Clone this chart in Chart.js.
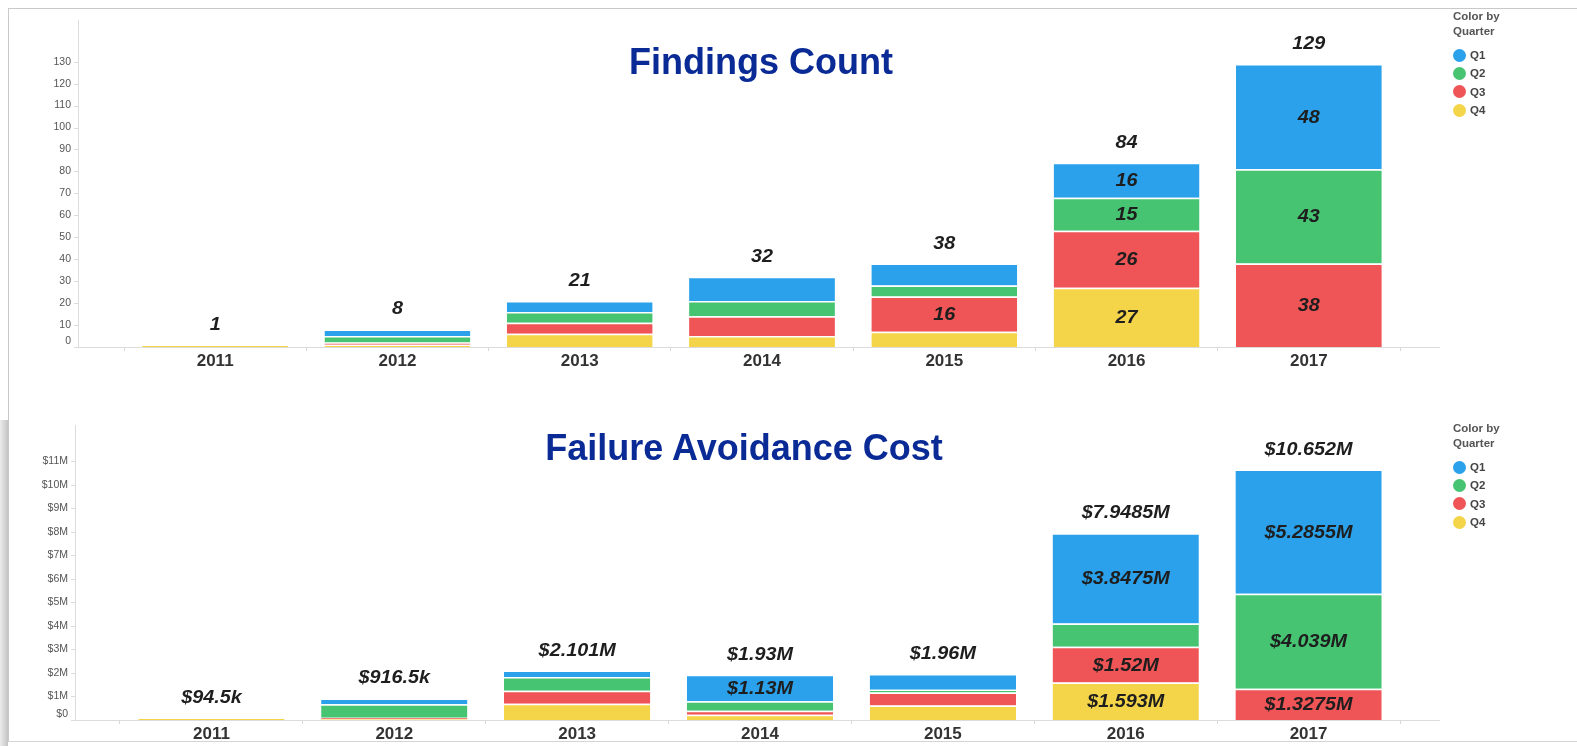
<!DOCTYPE html>
<html>
<head>
<meta charset="utf-8">
<script src="https://cdn.jsdelivr.net/npm/chart.js@4.4.0/dist/chart.umd.min.js"></script>
<style>
    html, body { margin: 0; padding: 0; background: #fff; width: 1577px; height: 746px; overflow: hidden; font-family: "Liberation Sans", Arial, sans-serif; }
    .frame { position: absolute; left: 8px; top: 8px; width: 1569px; height: 732px; border-top: 1px solid #c9c9c9; border-left: 1px solid #c9c9c9; border-bottom: 1px solid #d4d4d4; }
    .shadow { position: absolute; left: 0; top: 420px; width: 8px; height: 326px; background: linear-gradient(to right, #ececec, #c4c4c4); }
    .box { position: absolute; left: 0; }
    .title { position: absolute; font: bold 36px "Liberation Sans", Arial, sans-serif; line-height: 36px; color: #0a2a96; white-space: nowrap; transform: translateX(-50%); }
    .legend { position: absolute; left: 1453px; font: bold 11.5px "Liberation Sans", Arial, sans-serif; color: #555; }
    .legend .head { line-height: 15px; margin-bottom: 7px; }
    .legend .item { display: flex; align-items: center; height: 18.3px; color: #444; }
    .legend .dot { width: 13px; height: 13px; border-radius: 50%; margin-right: 4px; }
</style>
</head>
<body>
<div class="frame"></div>
<div class="shadow"></div>

<div class="box" style="top:0"><canvas id="countChart" width="1577" height="380"></canvas></div>
<div class="box" style="top:380px"><canvas id="costChart" width="1577" height="366"></canvas></div>

<div class="title" style="left:761px; top:44px">Findings Count</div>
<div class="title" style="left:744px; top:430px">Failure Avoidance Cost</div>

<div class="legend" id="legendTop" style="top:9px"></div>
<div class="legend" id="legendBottom" style="top:421px"></div>

<script>
    const years = ['2011', '2012', '2013', '2014', '2015', '2016', '2017'];
    const quarters = ['Q1', 'Q2', 'Q3', 'Q4'];
    const quarterColors = ['#2aa1ea', '#46c472', '#ef5456', '#f4d549'];

    // findings count by quarter
    const countQ1 = [0, 3, 5, 11, 10, 16, 48];
    const countQ2 = [0, 3, 5, 7, 5, 15, 43];
    const countQ3 = [0, 1, 5, 9, 16, 26, 38];
    const countQ4 = [1, 1, 6, 5, 7, 27, 0];

    // failure avoidance cost by quarter, in $M
    const costQ1 = [0, 0.25, 0.27, 1.13, 0.67, 3.8475, 5.2855];
    const costQ2 = [0, 0.57, 0.585, 0.41, 0.115, 0.988, 4.039];
    const costQ3 = [0, 0.05, 0.555, 0.17, 0.555, 1.52, 1.3275];
    const costQ4 = [0.0945, 0.0465, 0.691, 0.22, 0.62, 1.593, 0];

    const countTicks = [0, 10, 20, 30, 40, 50, 60, 70, 80, 90, 100, 110, 120, 130];
    const costTicks = [0, 1, 2, 3, 4, 5, 6, 7, 8, 9, 10, 11];

    function fmtCount(v) { return String(v); }
    function fmtCost(v) {
        if (v < 1) return '$' + (+(v * 1000).toFixed(1)) + 'k';
        return '$' + (+v.toFixed(4)) + 'M';
    }

    // axis lines sit left of the first category, like the original
    const axisPlugin = {
        id: 'axisLines',
        beforeDatasetsDraw(chart, args, opts) {
            const a = chart.chartArea, ctx = chart.ctx, ys = chart.scales.y;
            const x0 = a.left - opts.gap;
            ctx.save();
            ctx.strokeStyle = '#dcdcdc';
            ctx.lineWidth = 1;
            ctx.beginPath();
            ctx.moveTo(x0 + 0.5, a.top);
            ctx.lineTo(x0 + 0.5, a.bottom);
            ctx.moveTo(x0, a.bottom + 0.5);
            ctx.lineTo(a.right + 40, a.bottom + 0.5);
            ys.ticks.forEach(t => {
                const y = Math.round(ys.getPixelForValue(t.value)) + 0.5;
                ctx.moveTo(x0 - 4, y);
                ctx.lineTo(x0, y);
            });
            ctx.stroke();
            // the zero label is nudged up off the baseline in the original
            ctx.fillStyle = '#555';
            ctx.font = '10.5px "Liberation Sans", Arial, sans-serif';
            ctx.textAlign = 'right';
            ctx.textBaseline = 'middle';
            ctx.fillText(opts.zero, x0 - 7, ys.getPixelForValue(0) - 6);
            ctx.restore();
        }
    };

    const labelPlugin = {
        id: 'barLabels',
        afterDatasetsDraw(chart, args, opts) {
            const ctx = chart.ctx;
            function put(txt, x, y) {
                ctx.save();
                ctx.translate(x, y);
                ctx.scale(1.1, 1);
                ctx.fillText(txt, 0, 0);
                ctx.restore();
            }
            ctx.save();
            ctx.font = 'italic bold 18px "Liberation Sans", Arial, sans-serif';
            ctx.fillStyle = '#1e1e1e';
            ctx.textAlign = 'center';
            ctx.textBaseline = 'middle';
            chart.data.datasets.forEach((ds, di) => {
                chart.getDatasetMeta(di).data.forEach((el, i) => {
                    const v = ds.data[i];
                    if (v > 0 && el.base - el.y >= 25) {
                        put(opts.fmt(v), el.x, (el.y + el.base) / 2 + 1);
                    }
                });
            });
            const xs = chart.scales.x, ys = chart.scales.y;
            years.forEach((yr, i) => {
                let total = 0;
                chart.data.datasets.forEach(ds => { total += ds.data[i]; });
                put(opts.fmt(total), xs.getPixelForValue(i), ys.getPixelForValue(total) - 20);
            });
            ctx.restore();
        }
    };

    function makeChart(id, series, cfg) {
        // stack from the bottom: Q4, Q3, Q2, Q1
        const datasets = [3, 2, 1, 0].map(q => ({
            label: quarters[q],
            data: series[q],
            backgroundColor: quarterColors[q],
            borderColor: 'rgba(255,255,255,0.85)',
            borderWidth: { top: 1.5, left: 0, right: 0, bottom: 0 },
            borderSkipped: 'start',
            categoryPercentage: 1,
            barPercentage: 0.8
        }));
        return new Chart(document.getElementById(id), {
            type: 'bar',
            data: { labels: years, datasets: datasets },
            options: {
                responsive: false,
                animation: false,
                events: [],
                layout: { padding: { top: cfg.top, right: 177, left: 0, bottom: 0 } },
                plugins: {
                    legend: { display: false },
                    tooltip: { enabled: false },
                    axisLines: { gap: cfg.gap, zero: cfg.tickFmt(0) },
                    barLabels: { fmt: cfg.fmt }
                },
                scales: {
                    x: {
                        stacked: true,
                        afterFit: s => { s.height = cfg.xHeight; },
                        border: { display: false },
                        grid: { drawOnChartArea: false, drawTicks: true, tickLength: 4, color: '#d8d8d8', offset: true },
                        ticks: { color: '#333', padding: 0, font: { family: '"Liberation Sans", Arial, sans-serif', size: 17, weight: 'bold' } }
                    },
                    y: {
                        stacked: true,
                        min: 0,
                        max: cfg.max,
                        // fixed width; drop the label padding so it does not push the plot area
                        afterFit: s => { s.width = cfg.left; s.paddingTop = 0; s.paddingBottom = 0; },
                        afterBuildTicks: s => { s.ticks = cfg.ticks.map(v => ({ value: v })); },
                        border: { display: false },
                        grid: { display: false, drawTicks: false },
                        ticks: {
                            color: '#555',
                            padding: cfg.gap + 7,
                            font: { family: '"Liberation Sans", Arial, sans-serif', size: 10.5 },
                            callback: v => (v === 0 ? '' : cfg.tickFmt(v))
                        }
                    }
                }
            },
            plugins: [axisPlugin, labelPlugin]
        });
    }

    makeChart('countChart', [countQ1, countQ2, countQ3, countQ4], {
        top: 20, xHeight: 33, left: 124, gap: 46, max: 149,
        ticks: countTicks, fmt: fmtCount, tickFmt: v => String(v)
    });
    makeChart('costChart', [costQ1, costQ2, costQ3, costQ4], {
        top: 45, xHeight: 26, left: 120, gap: 45, max: 12.55,
        ticks: costTicks, fmt: fmtCost, tickFmt: v => '$' + v + (v ? 'M' : '')
    });

    function buildLegend(elId) {
        let html = '<div class="head">Color by<br>Quarter</div>';
        quarters.forEach((q, i) => {
            html += '<div class="item"><span class="dot" style="background:' + quarterColors[i] + '"></span>' + q + '</div>';
        });
        document.getElementById(elId).innerHTML = html;
    }
    buildLegend('legendTop');
    buildLegend('legendBottom');
</script>
</body>
</html>
